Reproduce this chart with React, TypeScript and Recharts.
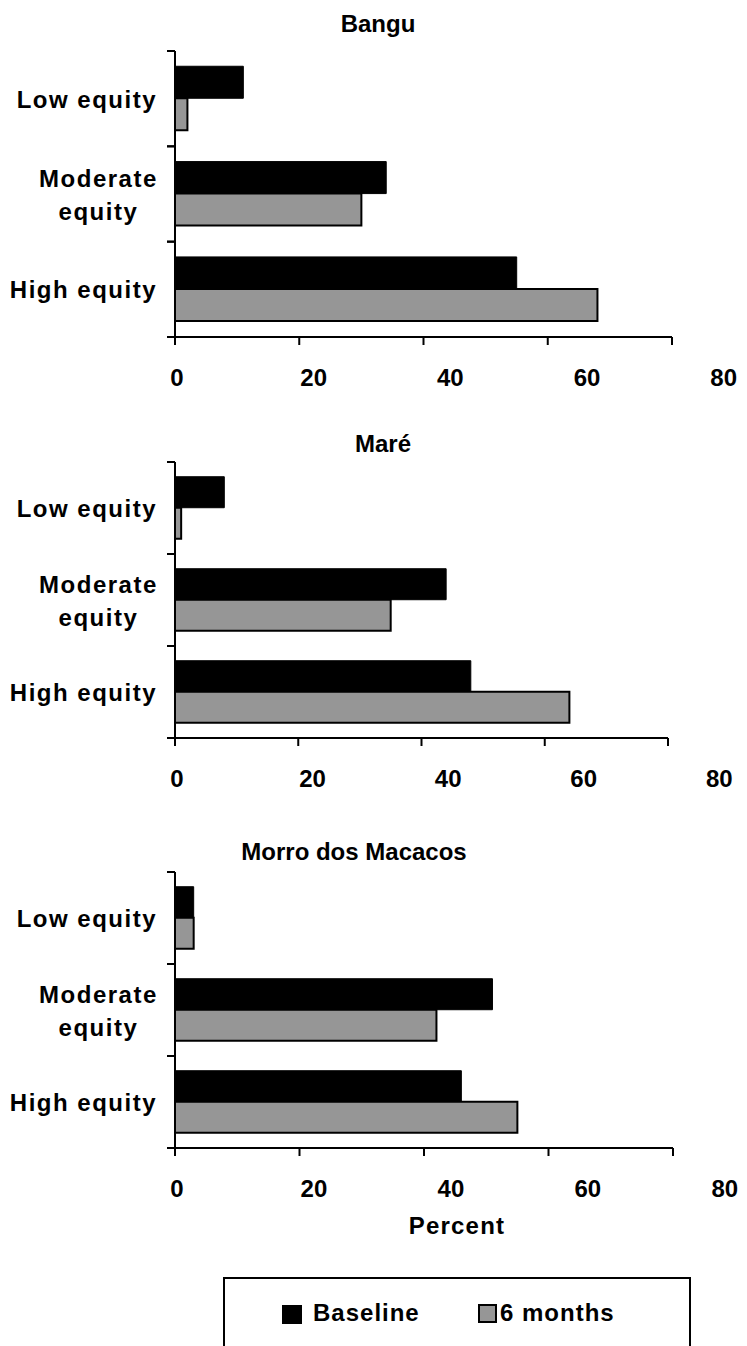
import { Bar, BarChart, Label, Legend, XAxis, YAxis } from 'recharts';

const FONT = '"Liberation Sans", Arial, Helvetica, sans-serif';

const categories = ['Low equity', 'Moderate equity', 'High equity'];
const seriesNames = ['Baseline', '6 months'];
const xTicks = [0, 20, 40, 60, 80];

const banguBaseline = [11, 34, 55];
const banguSixMonths = [2, 30, 68];
const mareBaseline = [8, 44, 48];
const mareSixMonths = [1, 35, 64];
const morroBaseline = [3, 51, 46];
const morroSixMonths = [3, 42, 55];

// labels that Excel wrapped onto two lines
const wrapped: Record<string, string[]> = { 'Moderate equity': ['Moderate', 'equity'] };

const buildRows = (baseline: number[], sixMonths: number[]) =>
  categories.map((category, i) => ({ category, baseline: baseline[i], sixMonths: sixMonths[i] }));

const panels = [
  { title: 'Bangu', rows: buildRows(banguBaseline, banguSixMonths), top: 0, height: 400, plotTop: 51, plotBottom: 337, plotRight: 672, titleX: 378, titleY: 32 },
  { title: 'Maré', rows: buildRows(mareBaseline, mareSixMonths), top: 400, height: 400, plotTop: 62, plotBottom: 338, plotRight: 668, titleX: 383, titleY: 52 },
  { title: 'Morro dos Macacos', rows: buildRows(morroBaseline, morroSixMonths), top: 800, height: 546, plotTop: 72, plotBottom: 348, plotRight: 673, titleX: 354, titleY: 60, last: true },
];

const PLOT_LEFT = 175;

let ctx: CanvasRenderingContext2D | null = null;
function textWidth(s: string) {
  if (!ctx) {
    ctx = document.createElement('canvas').getContext('2d');
    if (ctx) ctx.font = `bold 24px ${FONT}`;
  }
  const w = ctx ? ctx.measureText(s).width : s.length * 13;
  return w + 1.5 * (s.length - 1);
}

function YTick(props: any) {
  const { x, y, payload, half } = props;
  const axisX = x + 18;
  const lines = wrapped[payload.value] ?? [payload.value];
  const multi = lines.length > 1;
  const maxW = Math.max(...lines.map(textWidth));
  const tx = multi ? x - maxW / 2 : x;
  return (
    <g>
      <line x1={axisX - 8} x2={axisX} y1={y - half} y2={y - half} stroke="#000" strokeWidth={2} />
      <line x1={axisX - 8} x2={axisX} y1={y + half} y2={y + half} stroke="#000" strokeWidth={2} />
      <text
        x={tx}
        textAnchor={multi ? 'middle' : 'end'}
        fontFamily={FONT}
        fontSize={24}
        fontWeight="bold"
        fill="#000"
        style={{ letterSpacing: 1.5 }}
      >
        {lines.map((line: string, i: number) => (
          <tspan key={line} x={tx} y={y + 9 + (i - (lines.length - 1) / 2) * 33}>
            {line}
          </tspan>
        ))}
      </text>
    </g>
  );
}

function XTick(props: any) {
  const { x, y, payload } = props;
  // tick labels in the original sit slightly wider apart than the tick marks
  const lx = x + (x - PLOT_LEFT) * 0.1 + 2;
  return (
    <text x={lx} y={y} dy="0.71em" textAnchor="middle" fontFamily={FONT} fontSize={24} fontWeight="bold" fill="#000">
      {payload.value}
    </text>
  );
}

function PercentLabel(props: any) {
  const vb = props.viewBox ?? { x: PLOT_LEFT, y: 348, width: 498 };
  return (
    <text
      x={vb.x + vb.width / 2 + 33}
      y={vb.y + 86}
      textAnchor="middle"
      fontFamily={FONT}
      fontSize={24}
      fontWeight="bold"
      fill="#000"
      style={{ letterSpacing: 1.2 }}
    >
      Percent
    </text>
  );
}

function LegendBox(props: any) {
  const payload = [...(props.payload ?? [])].sort(
    (a: any, b: any) => seriesNames.indexOf(a.value) - seriesNames.indexOf(b.value),
  );
  const squareX = [58, 255];
  const textX = [90, 277];
  return (
    <svg width={468} height={69} style={{ display: 'block' }}>
      <polyline points="1,69 1,1 467,1 467,69" fill="none" stroke="#000" strokeWidth={2} />
      {payload.map((entry: any, i: number) => (
        <g key={entry.value}>
          <rect
            x={squareX[i] + 1}
            y={28}
            width={i === 0 ? 20 : 17}
            height={i === 0 ? 19 : 17}
            fill={entry.color}
            stroke="#000"
            strokeWidth={i === 0 ? 0 : 2}
          />
          <text x={textX[i]} y={44} fontFamily={FONT} fontSize={24} fontWeight="bold" fill="#000" style={{ letterSpacing: 1 }}>
            {entry.value}
          </text>
        </g>
      ))}
    </svg>
  );
}

export default function App() {
  return (
    <div style={{ position: 'absolute', left: 0, top: 0, width: 747, height: 1346, background: '#fff' }}>
      {panels.map((p) => (
        <div key={p.title} style={{ position: 'absolute', left: 0, top: p.top, width: 747, height: p.height }}>
          <BarChart
            width={747}
            height={p.height}
            data={p.rows}
            layout="vertical"
            margin={{ top: p.plotTop, right: 747 - p.plotRight, bottom: 0, left: 0 }}
            barCategoryGap="16%"
            barGap={0}
          >
            <XAxis
              type="number"
              domain={[0, 80]}
              ticks={xTicks}
              interval={0}
              height={p.height - p.plotBottom}
              axisLine={{ stroke: '#000', strokeWidth: 2 }}
              tickLine={{ stroke: '#000', strokeWidth: 2 }}
              tickSize={8}
              tickMargin={24}
              tick={<XTick />}
            >
              {p.last && <Label content={<PercentLabel />} />}
            </XAxis>
            <YAxis
              type="category"
              dataKey="category"
              width={PLOT_LEFT}
              interval={0}
              axisLine={{ stroke: '#000', strokeWidth: 2 }}
              tickLine={false}
              tickSize={8}
              tickMargin={10}
              tick={(props: any) => <YTick {...props} half={(p.plotBottom - p.plotTop) / 6} />}
            />
            <Bar dataKey="baseline" name={seriesNames[0]} fill="#000" stroke="#000" strokeWidth={1} isAnimationActive={false} />
            <Bar dataKey="sixMonths" name={seriesNames[1]} fill="#969696" stroke="#000" strokeWidth={2} isAnimationActive={false} />
            <text x={p.titleX} y={p.titleY} textAnchor="middle" fontFamily={FONT} fontSize={24} fontWeight="bold" fill="#000">
              {p.title}
            </text>
            {p.last && (
              <Legend
                layout="horizontal"
                align="center"
                verticalAlign="middle"
                wrapperStyle={{ left: 223, top: 477, width: 468, height: 69 }}
                content={<LegendBox />}
              />
            )}
          </BarChart>
        </div>
      ))}
    </div>
  );
}
